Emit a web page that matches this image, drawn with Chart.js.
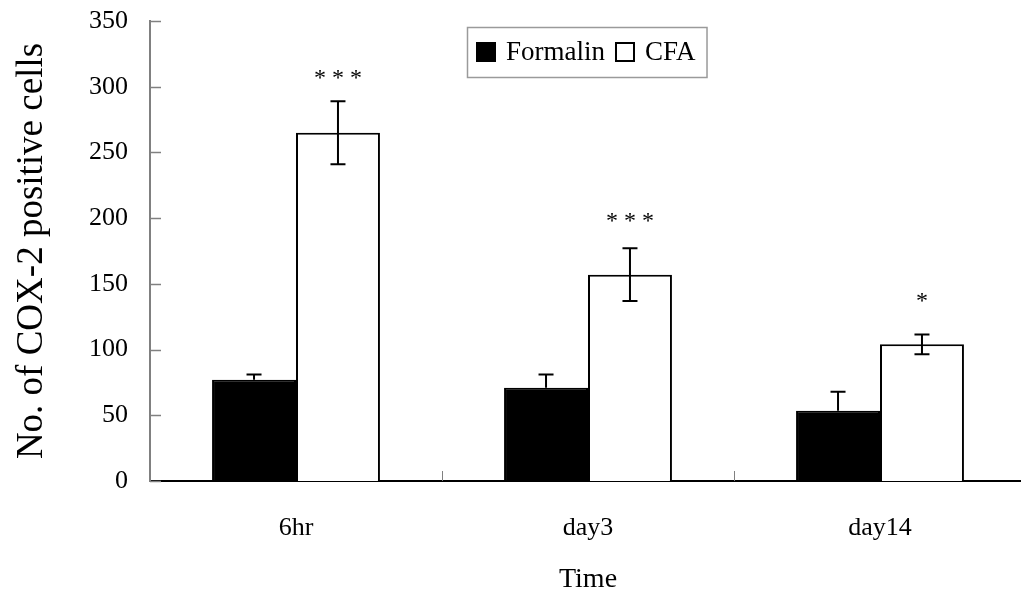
<!DOCTYPE html>
<html>
<head>
<meta charset="utf-8">
<script src="https://cdn.jsdelivr.net/npm/chart.js@4"></script>
<style>
  html, body { margin: 0; padding: 0; background: #fff; overflow: hidden; }
  #wrap { width: 1021px; height: 600px; overflow: hidden; }
</style>
</head>
<body>
<div id="wrap"><canvas id="chart" width="1040" height="600"></canvas></div>
<script>
// categories and values
var categories = ["6hr", "day3", "day14"];
var formalin = [77, 71, 53.5];
var formalinErr = [4, 10, 14.5];
var cfa = [265, 157, 104];
var cfaErr = [24, 20, 7.5];
// significance marks and the value level they sit at
var sigLabels = ["* * *", "* * *", "*"];
var sigLevel = [311, 202, 141];
var yTicks = [0, 50, 100, 150, 200, 250, 300, 350];

var serif = "'Liberation Serif', 'Times New Roman', serif";

// error bars, inward ticks, stars and the boxed legend
var extras = {
  id: "extras",
  afterDatasetsDraw: function(chart) {
    var ctx = chart.ctx;
    var y = chart.scales.y;
    var x = chart.scales.x;
    var area = chart.chartArea;

    ctx.save();
    ctx.strokeStyle = "#000";
    ctx.lineWidth = 2;
    var errs = [formalinErr, cfaErr];
    var both = [false, true];
    chart.data.datasets.forEach(function(ds, d) {
      chart.getDatasetMeta(d).data.forEach(function(bar, i) {
        var v = ds.data[i];
        var top = y.getPixelForValue(v + errs[d][i]);
        var bot = both[d] ? y.getPixelForValue(v - errs[d][i]) : y.getPixelForValue(v);
        ctx.beginPath();
        ctx.moveTo(bar.x, top); ctx.lineTo(bar.x, bot);
        ctx.moveTo(bar.x - 7.5, top); ctx.lineTo(bar.x + 7.5, top);
        if (both[d]) { ctx.moveTo(bar.x - 7.5, bot); ctx.lineTo(bar.x + 7.5, bot); }
        ctx.stroke();
      });
    });

    // stars above the CFA bars
    ctx.fillStyle = "#000";
    ctx.font = "24px " + serif;
    ctx.textAlign = "center";
    ctx.textBaseline = "middle";
    chart.getDatasetMeta(1).data.forEach(function(bar, i) {
      ctx.fillText(sigLabels[i], bar.x, y.getPixelForValue(sigLevel[i]) + 6);
    });

    // inward ticks on the y axis
    ctx.strokeStyle = "#808080";
    ctx.lineWidth = 1.5;
    yTicks.forEach(function(t) {
      var py = Math.round(y.getPixelForValue(t)) + 0.5;
      ctx.beginPath();
      ctx.moveTo(area.left, py); ctx.lineTo(area.left + 11, py);
      ctx.stroke();
    });
    // category separators on the x axis
    ctx.lineWidth = 1;
    for (var i = 0; i < categories.length; i++) {
      var bx = Math.round((x.getPixelForValue(i) + x.getPixelForValue(i + 1)) / 2) + 0.5;
      ctx.beginPath();
      ctx.moveTo(bx, area.bottom); ctx.lineTo(bx, area.bottom - 10);
      ctx.stroke();
    }

    // legend box
    ctx.font = "27px " + serif;
    var names = chart.data.datasets.map(function(ds) { return ds.label; });
    var sq = 20, gap = 10, padL = 9, padR = 11;
    var w = padL + padR;
    names.forEach(function(n, k) {
      w += sq + gap + ctx.measureText(n).width + (k < names.length - 1 ? gap : 0);
    });
    var h = 50;
    var lx = Math.round((area.left + area.right) / 2 - w / 2) - 1;
    var ly = area.top + 6;
    ctx.fillStyle = "#fff";
    ctx.fillRect(lx, ly, w, h);
    ctx.strokeStyle = "#9a9a9a";
    ctx.lineWidth = 1.5;
    ctx.strokeRect(lx + 0.5, ly + 0.5, w, h);
    var cx = lx + padL;
    var cy = ly + h / 2;
    ctx.textAlign = "left";
    ctx.textBaseline = "middle";
    chart.data.datasets.forEach(function(ds, k) {
      ctx.fillStyle = ds.backgroundColor;
      ctx.fillRect(cx, cy - sq / 2, sq, sq);
      ctx.strokeStyle = "#000";
      ctx.lineWidth = 2;
      ctx.strokeRect(cx + 1, cy - sq / 2 + 1, sq - 2, sq - 2);
      cx += sq + gap;
      ctx.fillStyle = "#000";
      ctx.fillText(ds.label, cx, cy + 1);
      cx += ctx.measureText(ds.label).width + gap;
    });
    ctx.restore();
  }
};

new Chart(document.getElementById("chart"), {
  type: "bar",
  data: {
    labels: categories,
    datasets: [
      { label: "Formalin", data: formalin, backgroundColor: "#000", borderColor: "#000", borderWidth: 2 },
      { label: "CFA", data: cfa, backgroundColor: "#fff", borderColor: "#000", borderWidth: 2 }
    ]
  },
  options: {
    responsive: false,
    animation: false,
    datasets: { bar: { categoryPercentage: 0.575, barPercentage: 1.0 } },
    layout: { padding: { top: 21, right: 14, left: 0, bottom: 0 } },
    plugins: { legend: { display: false }, tooltip: { enabled: false } },
    scales: {
      x: {
        grid: { display: false, drawTicks: false },
        border: { display: true, color: "#000", width: 2 },
        ticks: { color: "#000", font: { family: serif, size: 26 }, padding: 32 },
        title: { display: true, text: "Time", color: "#000", font: { family: serif, size: 28 }, padding: { top: 0, bottom: 4 } },
        afterFit: function(s) { s.height = 119; }
      },
      y: {
        min: 0, max: 350,
        grid: { display: false, drawTicks: false },
        border: { display: true, color: "#808080", width: 2 },
        ticks: { stepSize: 50, color: "#000", font: { family: serif, size: 26 }, padding: 22 },
        title: { display: true, text: "No. of COX-2 positive cells", color: "#000", font: { family: serif, size: 37 }, padding: { top: 10, bottom: 0 } },
        afterFit: function(s) { s.width = 150; s.paddingTop = 0; s.paddingBottom = 0; }
      }
    }
  },
  plugins: [extras]
});
</script>
</body>
</html>
